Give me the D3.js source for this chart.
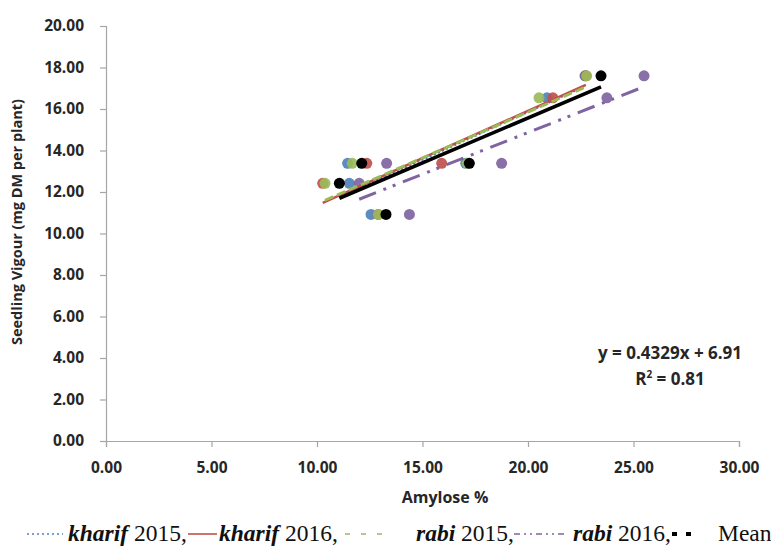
<!DOCTYPE html>
<html>
<head>
<meta charset="utf-8">
<script src="https://cdn.jsdelivr.net/npm/d3@7/dist/d3.min.js"></script>
<style>
  body { margin: 0; background: #fff; }
  svg { display: block; }
</style>
</head>
<body>
<script>
const width = 771;
const height = 550;

// seedling vigour of the six genotypes (shared by every season)
const vigour = [17.60, 16.54, 13.38, 13.38, 12.42, 10.92];

// amylose % per season, same genotype order as vigour
const kharif2015 = [22.70, 20.90, 11.45, 17.05, 11.53, 12.56];
const kharif2016 = [22.74, 21.18, 12.36, 15.91, 10.27, 12.90];
const rabi2015 = [22.78, 20.52, 11.67, 17.12, 10.38, 12.91];
const rabi2016 = [25.50, 23.74, 13.30, 18.75, 12.00, 14.38];
const meanAmylose = [23.46, null, 12.12, 17.22, 11.06, 13.27];

// fitted line printed on the chart for the mean
const meanSlope = 0.4329;
const meanIntercept = 6.91;
const meanR2 = '0.81';

const xTicks = [0, 5, 10, 15, 20, 25, 30];
const yTicks = [0, 2, 4, 6, 8, 10, 12, 14, 16, 18, 20];

const seriesNames = ['kharif', 'kharif', 'rabi', 'rabi', 'Mean'];
const seriesYears = ['2015,', '2016,', '2015,', '2016,', ''];
const seriesColors = ['#4f81bd', '#c0504d', '#9bbb59', '#8064a2', '#000000'];
const seriesDash = ['2,2.5', null, '9,4', '18,8,3,7,3,8', null];
const seriesWidth = [2.5, 2.5, 2.8, 3, 3.6];

const seriesValues = [kharif2015, kharif2016, rabi2015, rabi2016, meanAmylose];

const svg = d3.select('body').append('svg')
    .attr('width', width)
    .attr('height', height);

const x = d3.scaleLinear().domain([0, 30]).range([106, 739]);
const y = d3.scaleLinear().domain([0, 20]).range([441, 26]);

const axisColor = '#a6a6a6';
const labelFont = '"Open Sans", "DejaVu Sans", sans-serif';

// axes
const xAxis = svg.append('g')
    .attr('transform', `translate(0,${y(0)})`)
    .call(d3.axisBottom(x).tickValues(xTicks).tickFormat(d3.format('.2f')).tickSizeOuter(0).tickSize(6).tickPadding(15));
const yAxis = svg.append('g')
    .attr('transform', `translate(${x(0)},0)`)
    .call(d3.axisLeft(y).tickValues(yTicks).tickFormat(d3.format('.2f')).tickSizeOuter(0).tickSize(6).tickPadding(16));

[xAxis, yAxis].forEach((g) => {
  g.select('.domain').attr('stroke', axisColor).attr('stroke-width', 1.2);
  g.selectAll('.tick line').attr('stroke', axisColor).attr('stroke-width', 1.2);
  g.selectAll('.tick text')
    .attr('fill', '#262626')
    .style('font-family', labelFont)
    .style('font-weight', 'bold')
    .style('font-size', '15.5px');
});

svg.append('text')
    .attr('x', 445).attr('y', 503)
    .attr('text-anchor', 'middle')
    .attr('fill', '#262626')
    .style('font-family', labelFont).style('font-weight', 'bold').style('font-size', '16px')
    .text('Amylose %');

svg.append('text')
    .attr('transform', 'translate(22,222) rotate(-90)')
    .attr('text-anchor', 'middle')
    .attr('fill', '#262626')
    .style('font-family', labelFont).style('font-weight', 'bold').style('font-size', '14.5px')
    .text('Seedling Vigour (mg DM per plant)');

// points
seriesValues.forEach((vals, i) => {
  const pts = vals.map((v, k) => ({ x: v, y: vigour[k] })).filter((d) => d.x != null);
  svg.append('g').selectAll('circle')
    .data(pts)
    .join('circle')
    .attr('cx', (d) => x(d.x))
    .attr('cy', (d) => y(d.y))
    .attr('r', 5.5)
    .attr('fill', seriesColors[i])
    .attr('fill-opacity', i === 4 ? 1 : 0.92);
});

// linear trendlines (least squares), drawn over the range of each series
function fit (pts) {
  const mx = d3.mean(pts, (d) => d.x);
  const my = d3.mean(pts, (d) => d.y);
  const sxy = d3.sum(pts, (d) => (d.x - mx) * (d.y - my));
  const sxx = d3.sum(pts, (d) => (d.x - mx) * (d.x - mx));
  const b = sxy / sxx;
  return { b, a: my - b * mx };
}

seriesValues.forEach((vals, i) => {
  const pts = vals.map((v, k) => ({ x: v, y: vigour[k] })).filter((d) => d.x != null);
  const { a, b } = i === 4 ? { a: meanIntercept, b: meanSlope } : fit(pts);
  const [x0, x1] = d3.extent(pts, (d) => d.x);
  svg.append('line')
    .attr('x1', x(x0)).attr('y1', y(a + b * x0))
    .attr('x2', x(x1)).attr('y2', y(a + b * x1))
    .attr('stroke', seriesColors[i])
    .attr('stroke-width', seriesWidth[i])
    .attr('stroke-dasharray', seriesDash[i]);
});

// equation of the mean line
const eq = svg.append('g').attr('fill', '#262626')
    .style('font-family', labelFont).style('font-weight', 'bold').style('font-size', '17px');
eq.append('text').attr('x', 670).attr('y', 359).attr('text-anchor', 'middle')
    .text(`y = ${meanSlope}x + ${meanIntercept}`);
const r2 = eq.append('text').attr('x', 670).attr('y', 385).attr('text-anchor', 'middle');
r2.append('tspan').text('R');
r2.append('tspan').attr('dy', -7).style('font-size', '10px').text('2');
r2.append('tspan').attr('dy', 7).text(` = ${meanR2}`);

// legend along the bottom
const legend = svg.append('g')
    .style('font-family', '"Liberation Serif", "Times New Roman", serif')
    .style('font-size', '23.5px')
    .attr('fill', '#111');
const legendY = 541;
const swatchStart = [27, 188, 345, 514, 672];
const swatchEnd = [63, 217, 388, 568, 692];
const textStart = [68, 219, 416, 573, 718];
seriesValues.forEach((vals, i) => {
  legend.append('line')
    .attr('x1', swatchStart[i]).attr('x2', swatchEnd[i])
    .attr('y1', legendY - 7).attr('y2', legendY - 7)
    .attr('stroke', seriesColors[i])
    .attr('stroke-width', i === 4 ? 4 : 1.6)
    .attr('stroke-dasharray', i === 4 ? '5,9' : (i === 3 ? '6,4,2,4,2,4' : (i === 2 ? '5,11' : (i === 0 ? '2,3' : null))));
  const t = legend.append('text').attr('x', textStart[i]).attr('y', legendY);
  if (i < 4) {
    t.append('tspan').style('font-weight', 'bold').style('font-style', 'italic').text(seriesNames[i]);
    t.append('tspan').text(' ' + seriesYears[i]);
  } else {
    t.text(seriesNames[i]);
  }
});
</script>
</body>
</html>
